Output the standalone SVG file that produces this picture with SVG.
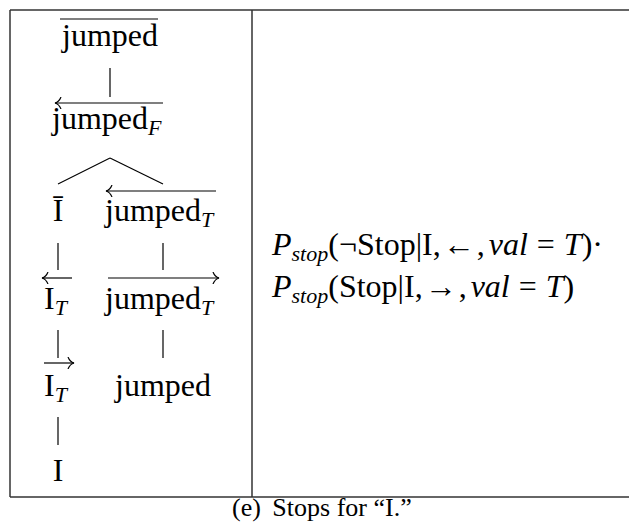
<svg xmlns="http://www.w3.org/2000/svg" width="629" height="526" viewBox="0 0 629 526">
<style>
.t{font-family:"Liberation Serif","Times New Roman",serif;font-size:32px;fill:#000}
.i{font-style:italic}
.s{font-size:22px}
.l{stroke:#000;stroke-width:1.2;fill:none}
.f{stroke:#333;stroke-width:1.5;fill:none}
.cap{font-family:"Liberation Serif","Times New Roman",serif;font-size:26px;fill:#000}
</style>
<defs>
<marker id="ah" markerWidth="10" markerHeight="12" refX="9" refY="6" orient="auto" markerUnits="userSpaceOnUse">
<path d="M3,0 Q5,5 9,6 Q5,7 3,12" stroke="#000" stroke-width="1.2" fill="none"/>
</marker>
</defs>
<g id="frame">
<line class="f" x1="10" y1="10" x2="629" y2="10"/>
<line class="f" x1="10" y1="10" x2="10" y2="497"/>
<line class="f" x1="10" y1="497" x2="629" y2="497"/>
<line class="f" x1="252" y1="10" x2="252" y2="497"/>
</g>
<g id="connectors">
<line class="l" x1="110" y1="68" x2="110" y2="97"/>
<line class="l" x1="110" y1="158" x2="58" y2="184"/>
<line class="l" x1="110" y1="158" x2="163" y2="184"/>
<line class="l" x1="58" y1="243" x2="58" y2="270"/>
<line class="l" x1="163" y1="243" x2="163" y2="270"/>
<line class="l" x1="58" y1="330" x2="58" y2="358"/>
<line class="l" x1="163" y1="330" x2="163" y2="358"/>
<line class="l" x1="58" y1="417" x2="58" y2="445"/>
</g>
<g id="n-jumped-bar">
<line class="l" x1="60" y1="19" x2="158" y2="19"/>
<text class="t" x="110" y="46" text-anchor="middle">jumped</text>
</g>
<g id="n-jumped-F">
<line class="l" x1="163" y1="103" x2="55" y2="103" marker-end="url(#ah)"/>
<text class="t" x="52" y="129">jumped<tspan class="i s" dy="6">F</tspan></text>
</g>
<g id="n-I-bar">
<text class="t" x="58" y="221" text-anchor="middle">Ī</text>
</g>
<g id="n-jumped-T-left">
<line class="l" x1="216" y1="191" x2="106" y2="191" marker-end="url(#ah)"/>
<text class="t" x="105" y="221">jumped<tspan class="i s" dy="6">T</tspan></text>
</g>
<g id="n-I-T-left">
<line class="l" x1="72" y1="278" x2="42" y2="278" marker-end="url(#ah)"/>
<text class="t" x="44" y="309">I<tspan class="i s" dy="6">T</tspan></text>
</g>
<g id="n-jumped-T-right">
<line class="l" x1="108" y1="278" x2="219" y2="278" marker-end="url(#ah)"/>
<text class="t" x="105" y="309">jumped<tspan class="i s" dy="6">T</tspan></text>
</g>
<g id="n-I-T-right">
<line class="l" x1="44" y1="363" x2="74" y2="363" marker-end="url(#ah)"/>
<text class="t" x="44" y="396">I<tspan class="i s" dy="6">T</tspan></text>
</g>
<g id="n-jumped">
<text class="t" x="115" y="396">jumped</text>
</g>
<g id="n-I">
<text class="t" x="58" y="481" text-anchor="middle">I</text>
</g>
<g id="formula">
<text class="t" x="272" y="255"><tspan class="i">P</tspan><tspan class="i s" dy="6">stop</tspan><tspan dy="-6">(¬Stop|I,</tspan><tspan dx="2">←</tspan><tspan dx="2">,</tspan><tspan class="i" dx="4">val</tspan><tspan dx="9">=</tspan><tspan class="i" dx="9">T</tspan>)·</text>
<text class="t" x="272" y="297"><tspan class="i">P</tspan><tspan class="i s" dy="6">stop</tspan><tspan dy="-6">(Stop|I,</tspan><tspan dx="2">→</tspan><tspan dx="2">,</tspan><tspan class="i" dx="4">val</tspan><tspan dx="9">=</tspan><tspan class="i" dx="9">T</tspan>)</text>
</g>
<g id="caption">
<text class="cap" x="232" y="516">(e)<tspan dx="5"> Stops for “I.”</tspan></text>
</g>
</svg>
